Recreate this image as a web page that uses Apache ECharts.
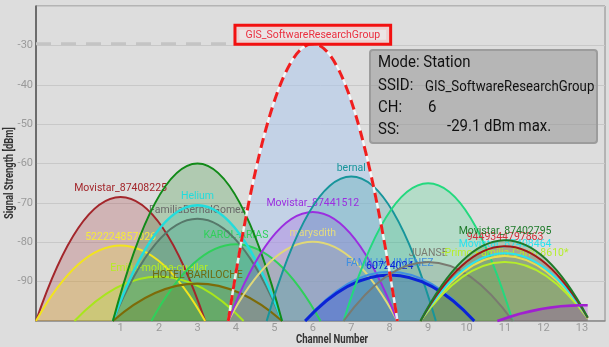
<!DOCTYPE html>
<html>
<head>
<meta charset="utf-8">
<script src="https://cdn.jsdelivr.net/npm/echarts@6/dist/echarts.min.js"></script>
<style>
html,body{margin:0;padding:0;background:#dddddd;}
#chart{width:609px;height:347px;}
</style>
</head>
<body>
<div id="chart"></div>
<script>
// ---- data ----
const channelTicks = [1,2,3,4,5,6,7,8,9,10,11,12,13];
const networkNames = [
  'Movistar_87408225','522224857026','Emilia-molina-cuellar','KAROL-ARIAS',
  'FamiliaBernalGomez','Helium','HOTEL BARILOCHE','',
  'marysdith','Movistar_87441512','bernal','FAMILIA_JIMENEZ','60724024',
  '','JUANSE','-Primo-Familia-Carro 8610*','','Movistar_87408464','9449344797863','Movistar_87402795',''
];
const networkChannels = [1,1,2,4, 3,3,3,3, 6,6,7,8,8, 9,9,11,11,11,11,11,13];
const networkPeaks = [-68.5,-80.8,-88.7,-80.5, -74.0,-70.6,-90.5,-60.0,
  -79.9,-72.3,-63.3,-87.5,-88.3, -65.0,-85.0,-85.0,-83.5,-82.8,-81.0,-79.5,-96.0];
const gisName = 'GIS_SoftwareResearchGroup';
const gisChannel = 6;
const gisPeak = -29.6;
const infoLines = [['Mode:', 'Station'], ['SSID:', 'GIS_SoftwareResearchGroup'], ['CH:', '6'], ['SS:', '-29.1 dBm max.']];

// ---- styles ----
const networkColors = ['#a3262b','#f2e41e','#a8e61c','#2fd05a',
  '#56786a','#22dcdc','#7d6b08','#118a18',
  '#e0d878','#9b2ee0','#17959b','#3f8fe0','#0b23d6',
  '#23d97e','#7a7a70','#b6ee2a','#e6dc50','#2ae3ef','#a01818','#1e7a2a','#a020d0'];
const labelColors = ['#a3262b','#f5ea3a','#b4ee22','#2fd05a',
  '#6a6a6a','#22dcdc','#6e6a10','#118a18',
  '#e4dc80','#9b2ee0','#17959b','#3f8fe0','#0b23d6',
  '#23d97e','#7a7a70','#b6ee2a','#e6dc50','#2ae3ef','#d0303a','#1e7a2a','#a020d0'];
const lineWidths = [2,2,2,2, 2,2.5,2,2, 2,2,2,2,3, 2,2,2,2,2,2,2,2.5];

const HALF = 2.2, XCLIP = 13.15, FLOOR = -100;
function geom(api, c, p) {
  const h = p - FLOOR;
  const xa = c - HALF, xb = Math.min(c + HALF, XCLIP);
  const f = x => FLOOR + h * (1 - Math.pow((x - c) / HALF, 2));
  const df = x => -2 * h * (x - c) / (HALF * HALF);
  const ya = f(xa), yb = f(xb);
  const cx = (xa + xb) / 2, cy = ya + df(xa) * (xb - xa) / 2;
  const P0 = api.coord([xa, ya]), C = api.coord([cx, cy]), P1 = api.coord([xb, yb]);
  const B1 = api.coord([xb, FLOOR]), B0 = api.coord([xa, FLOOR]);
  const open = 'M' + P0[0] + ' ' + P0[1] + ' Q' + C[0] + ' ' + C[1] + ' ' + P1[0] + ' ' + P1[1];
  const closed = open + ' L' + B1[0] + ' ' + B1[1] + ' L' + B0[0] + ' ' + B0[1] + ' Z';
  return { open, closed, top: api.coord([c, p]) };
}

const netData = networkNames.map((n, i) => [networkChannels[i], networkPeaks[i], i]);

const chart = echarts.init(document.getElementById('chart'), null, { renderer: 'canvas' });
const labelFont = 'Roboto, sans-serif';
const SX = 0.88;

function infoText(text, x, y, size) {
  return { type: 'text', x: x, y: y, scaleX: SX, z: 11,
    style: { text: text, x: 0, y: 0, verticalAlign: 'middle', fill: '#111', fontSize: size, fontFamily: labelFont } };
}

chart.setOption({
  animation: false,
  backgroundColor: '#dddddd',
  grid: { left: 36, right: 4, top: 6, bottom: 26, show: true, borderColor: '#8a8a8a', borderWidth: 1, backgroundColor: 'transparent' },
  xAxis: {
    type: 'value', min: -1.2, max: 13.6,
    axisLine: { show: true, onZero: false, lineStyle: { color: '#8c8c8c', width: 1.5 } },
    axisTick: { show: false },
    splitLine: { show: false },
    axisLabel: { customValues: channelTicks, color: '#9a9a9a', fontSize: 11, margin: 2, fontFamily: labelFont }
  },
  yAxis: {
    type: 'value', min: -100, max: -20, interval: 10,
    axisLine: { show: true, onZero: false, lineStyle: { color: '#555555', width: 1.5 } },
    axisTick: { show: false },
    splitLine: { show: true, lineStyle: { color: '#c8c8c8', width: 1 } },
    axisLabel: { showMinLabel: false, showMaxLabel: false, color: '#9a9a9a', fontSize: 11, margin: 3, fontFamily: labelFont }
  },
  series: [
    {
      type: 'line', silent: true, symbol: 'none',
      data: [[-1.2, gisPeak], [3.95, gisPeak]],
      lineStyle: { color: '#c4c4c4', width: 3, type: [15, 10] }, z: 1
    },
    {
      type: 'custom', silent: true, z: 2,
      data: [[gisChannel, gisPeak]],
      renderItem: (params, api) => {
        const g = geom(api, api.value(0), api.value(1));
        return { type: 'path', shape: { pathData: g.closed }, style: { fill: 'rgba(170,200,240,0.5)', stroke: null } };
      }
    },
    {
      type: 'custom', silent: true, z: 3,
      data: netData,
      renderItem: (params, api) => {
        const i = api.value(2);
        const g = geom(api, api.value(0), api.value(1));
        return { type: 'path', shape: { pathData: g.closed }, style: { fill: echarts.color.modifyAlpha(networkColors[i], 0.22), stroke: null } };
      }
    },
    {
      type: 'custom', silent: true, z: 4,
      data: netData,
      renderItem: (params, api) => {
        const i = api.value(2);
        const g = geom(api, api.value(0), api.value(1));
        const children = [
          { type: 'path', shape: { pathData: g.open }, style: { fill: null, stroke: networkColors[i], lineWidth: lineWidths[i] } }
        ];
        if (networkNames[i]) {
          children.push({ type: 'text', style: { text: networkNames[i], x: g.top[0], y: g.top[1] - 3, align: 'center', verticalAlign: 'bottom', fill: labelColors[i], fontSize: 10.5, fontFamily: labelFont } });
        }
        return { type: 'group', children };
      }
    },
    {
      type: 'custom', silent: true, z: 5,
      data: [[gisChannel, gisPeak]],
      renderItem: (params, api) => {
        const g = geom(api, api.value(0), api.value(1));
        return { type: 'group', children: [
          { type: 'path', shape: { pathData: g.open }, style: { fill: null, stroke: 'rgba(255,255,255,0.85)', lineWidth: 2.5 } },
          { type: 'path', shape: { pathData: g.open }, style: { fill: null, stroke: '#f01e1e', lineWidth: 3, lineDash: [10, 6] } },
          { type: 'text', style: { text: gisName, x: g.top[0], y: g.top[1] - 1, align: 'center', verticalAlign: 'bottom', fill: '#ea3040', fontSize: 10.5, fontFamily: labelFont,
              backgroundColor: 'rgba(236,230,230,0.9)', borderColor: '#f21010', borderWidth: 3, padding: [3, 9, 2, 9] } }
        ] };
      }
    }
  ],
  graphic: [
    { type: 'rect', shape: { x: 370, y: 50, width: 227, height: 93, r: 3 }, style: { fill: 'rgba(150,150,150,0.55)', stroke: '#9c9c9c', lineWidth: 2 }, z: 10 },
    infoText(infoLines[0][0] + ' ' + infoLines[0][1], 378, 63, 17),
    infoText(infoLines[1][0], 378, 86, 17),
    infoText(infoLines[1][1], 425, 87, 15),
    infoText(infoLines[2][0], 378, 108, 17),
    infoText(infoLines[2][1], 428, 108, 17),
    infoText(infoLines[3][0], 378, 130, 17),
    infoText(infoLines[3][1], 447, 127, 17),
    { type: 'text', rotation: Math.PI / 2, x: 10, y: 173, scaleX: 0.78, z: 11,
      style: { text: 'Signal Strength [dBm]', x: 0, y: 0, align: 'center', verticalAlign: 'middle', fill: '#333', fontSize: 12, fontWeight: 'bold', fontFamily: labelFont } },
    { type: 'text', x: 332, y: 340, scaleX: 0.8, z: 11,
      style: { text: 'Channel Number', x: 0, y: 0, align: 'center', verticalAlign: 'middle', fill: '#333', fontSize: 12, fontWeight: 'bold', fontFamily: labelFont } }
  ]
});
</script>
</body>
</html>
